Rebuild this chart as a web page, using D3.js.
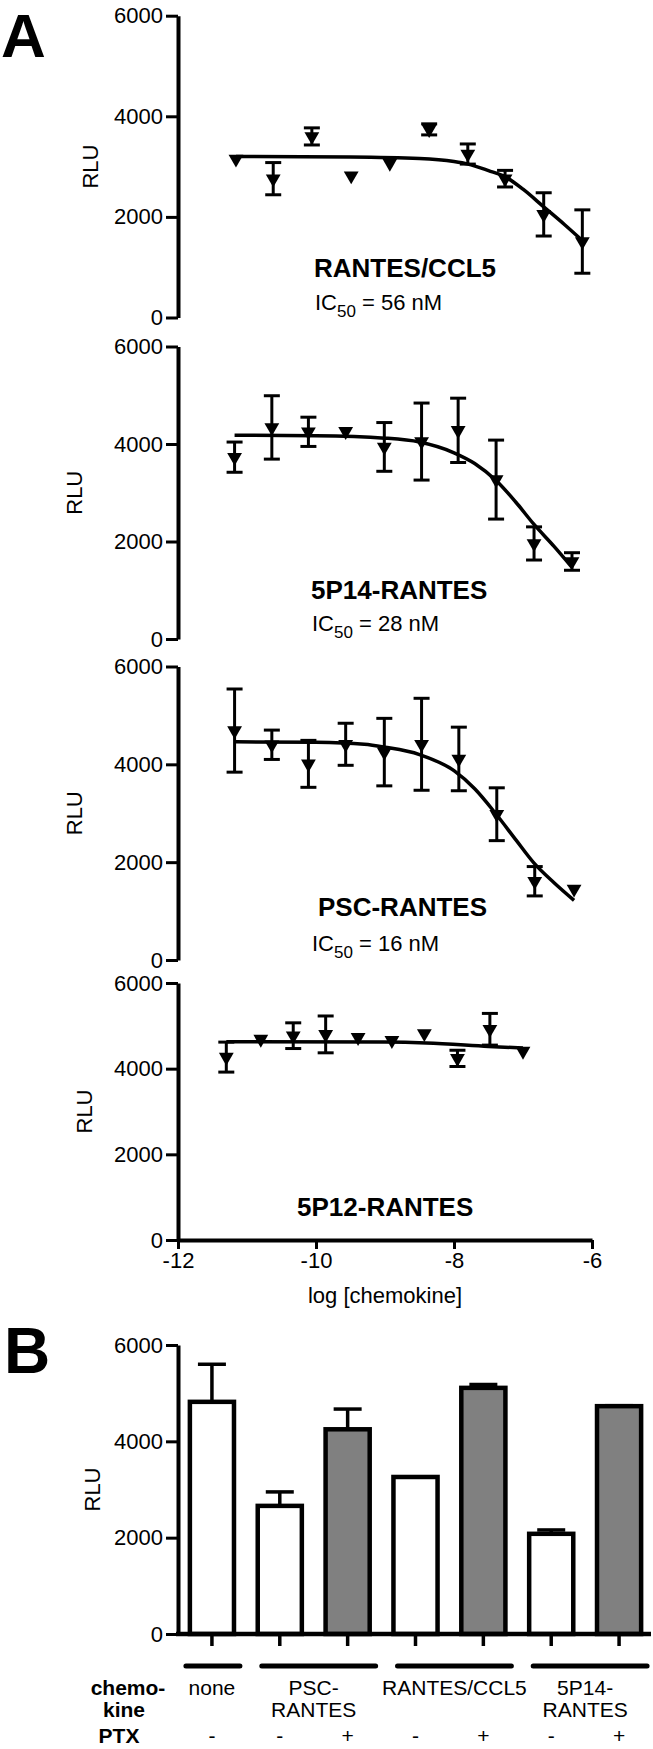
<!DOCTYPE html>
<html><head><meta charset="utf-8">
<script src="https://cdn.jsdelivr.net/npm/d3@7"></script>
<style>
body{margin:0;background:#fff}
svg{display:block}
text{font-family:"Liberation Sans",Arial,Helvetica,sans-serif;fill:#000}
</style>
</head><body>
<svg id="c" width="653" height="1749"></svg>
<script>
// ---------------- DATA ----------------
const yTickValues = [0, 2000, 4000, 6000];
const xTickValues = [-12, -10, -8, -6];

// Panel A1: RANTES/CCL5
const rantesLogC  = [-11.16, -10.62, -10.06, -9.49, -8.93, -8.36, -7.80, -7.26, -6.70, -6.14];
const rantesMean  = [3150, 2760, 3600, 2820, 3070, 3740, 3250, 2760, 2050, 1510];
const rantesSem   = [0, 320, 170, 0, 0, 110, 200, 165, 430, 630];
const rantesCurveLogC = [-11.16, -9.5, -8.5, -8.0, -7.8, -7.5, -7.26, -7.0, -6.7, -6.4, -6.14];
const rantesCurveRLU  = [3200, 3190, 3160, 3100, 3050, 2920, 2800, 2550, 2200, 1850, 1530];

// Panel A2: 5P14-RANTES
const p14LogC  = [-11.18, -10.64, -10.11, -9.57, -9.01, -8.47, -7.94, -7.39, -6.84, -6.29];
const p14Mean  = [3730, 4340, 4250, 4260, 3940, 4050, 4280, 3270, 1960, 1590];
const p14Sem   = [310, 650, 300, 0, 500, 790, 660, 810, 340, 180];
const p14CurveLogC = [-11.18, -10, -9, -8.5, -8.0, -7.7, -7.39, -7.1, -6.84, -6.55, -6.29];
const p14CurveRLU  = [4180, 4170, 4120, 4040, 3820, 3600, 3250, 2800, 2350, 1900, 1470];

// Panel A3: PSC-RANTES
const pscLogC  = [-11.18, -10.64, -10.11, -9.57, -9.01, -8.47, -7.93, -7.38, -6.83, -6.26];
const pscMean  = [4690, 4400, 4010, 4410, 4250, 4410, 4110, 2980, 1610, 1450];
const pscSem   = [850, 300, 480, 430, 690, 940, 650, 540, 300, 0];
const pscCurveLogC = [-11.18, -10, -9.3, -9.0, -8.5, -8.0, -7.7, -7.4, -7.1, -6.84, -6.55, -6.26];
const pscCurveRLU  = [4460, 4450, 4410, 4350, 4200, 3870, 3500, 3000, 2450, 1980, 1580, 1220];

// Panel A4: 5P12-RANTES
const p12LogC  = [-11.30, -10.80, -10.33, -9.86, -9.39, -8.90, -8.43, -7.95, -7.48, -7.00];
const p12Mean  = [4270, 4690, 4770, 4800, 4730, 4660, 4820, 4240, 4920, 4410];
const p12Sem   = [350, 0, 300, 430, 0, 0, 0, 190, 370, 0];
const p12CurveLogC = [-11.30, -9.0, -8.4, -7.5, -7.0];
const p12CurveRLU  = [4630, 4620, 4600, 4520, 4480];

// Panel B
const bCategories = ["none", "PSC-RANTES -", "PSC-RANTES +", "RANTES/CCL5 -", "RANTES/CCL5 +", "5P14-RANTES -", "5P14-RANTES +"];
const bMean  = [4820, 2660, 4250, 3260, 5110, 2080, 4730];
const bSem   = [780, 290, 420, 0, 70, 80, 10];
const bPTX   = ["-", "-", "+", "-", "+", "-", "+"];
const bGroupLabels = [["none"], ["PSC-", "RANTES"], ["RANTES/CCL5"], ["5P14-", "RANTES"]];
const bGroupSizes  = [1, 2, 2, 2];

// ---------------- LAYOUT ----------------
const svg = d3.select("#c");
const AX = 178;
const x = d3.scaleLinear().domain([-12, -6]).range([AX, 592]);

const panels = [
  {title: "RANTES/CCL5", ic: "56", lx: rantesLogC, m: rantesMean, e: rantesSem, cx: rantesCurveLogC, cy: rantesCurveRLU,
   y0: 317.5, y1: 15.7, tX: 314, tY: 277, icX: 315, icY: 310, rluX: 90},
  {title: "5P14-RANTES", ic: "28", lx: p14LogC, m: p14Mean, e: p14Sem, cx: p14CurveLogC, cy: p14CurveRLU,
   y0: 639, y1: 346.5, tX: 311, tY: 599, icX: 312, icY: 631, rluX: 74},
  {title: "PSC-RANTES", ic: "16", lx: pscLogC, m: pscMean, e: pscSem, cx: pscCurveLogC, cy: pscCurveRLU,
   y0: 960, y1: 666.5, tX: 318, tY: 916, icX: 312, icY: 951, rluX: 74},
  {title: "5P12-RANTES", ic: null, lx: p12LogC, m: p12Mean, e: p12Sem, cx: p12CurveLogC, cy: p12CurveRLU,
   y0: 1240, y1: 983, tX: 297, tY: 1216, rluX: 84, xAxis: true}
];

function styleAxis(g, fs) {
  g.select(".domain").attr("stroke", "#000").attr("stroke-width", 4);
  g.selectAll(".tick line").attr("stroke", "#000").attr("stroke-width", 3);
  g.selectAll(".tick text").style("font-size", fs + "px").attr("fill", "#000")
    .style("font-family", '"Liberation Sans",Arial,sans-serif');
}

// Panel letters
svg.append("text").attr("x", 1).attr("y", 57).style("font-size", "62px").style("font-weight", "bold").text("A");
svg.append("text").attr("x", 4).attr("y", 1373).style("font-size", "64px").style("font-weight", "bold").text("B");

const tri = d3.symbol().type(d3.symbolTriangle).size(95);

panels.forEach(p => {
  const y = d3.scaleLinear().domain([0, 6000]).range([p.y0, p.y1]);
  const g = svg.append("g");

  // y axis
  const ya = g.append("g").attr("transform", `translate(${AX},0)`)
    .call(d3.axisLeft(y).tickValues(yTickValues).tickSize(12).tickSizeOuter(0).tickPadding(3).tickFormat(d3.format("d")));
  styleAxis(ya, 22);

  if (p.xAxis) {
    const xa = g.append("g").attr("transform", `translate(0,${p.y0})`)
      .call(d3.axisBottom(x).tickValues(xTickValues).tickSize(9).tickSizeOuter(0).tickPadding(3).tickFormat(d => d));
    styleAxis(xa, 22);
    xa.selectAll(".tick text").text(d => "-" + Math.abs(d));
    svg.append("text").attr("x", (x(-12) + x(-6)) / 2).attr("y", 1303).attr("text-anchor", "middle")
      .style("font-size", "22px").text("log [chemokine]");
  }

  // RLU label
  svg.append("text").attr("transform", `translate(${p.rluX},${(p.y0 + p.y1) / 2}) rotate(-90)`)
    .attr("text-anchor", "middle").attr("dy", "0.35em").style("font-size", "22px").text("RLU");

  // curve
  const pts = p.cx.map((v, i) => [v, p.cy[i]]);
  g.append("path").datum(pts)
    .attr("d", d3.line().x(d => x(d[0])).y(d => y(d[1])).curve(d3.curveMonotoneX))
    .attr("fill", "none").attr("stroke", "#000").attr("stroke-width", 3.5);

  // error bars
  const data = p.lx.map((v, i) => ({lc: v, m: p.m[i], e: p.e[i]}));
  const eb = g.selectAll(".eb").data(data.filter(d => d.e > 0)).join("g");
  eb.append("line").attr("x1", d => x(d.lc)).attr("x2", d => x(d.lc))
    .attr("y1", d => y(d.m - d.e)).attr("y2", d => y(d.m + d.e)).attr("stroke", "#000").attr("stroke-width", 3);
  [-1, 1].forEach(s => {
    eb.append("line").attr("x1", d => x(d.lc) - 8).attr("x2", d => x(d.lc) + 8)
      .attr("y1", d => y(d.m + s * d.e)).attr("y2", d => y(d.m + s * d.e)).attr("stroke", "#000").attr("stroke-width", 3);
  });

  // markers (downward triangles)
  g.selectAll(".pt").data(data).join("path")
    .attr("d", tri).attr("transform", d => `translate(${x(d.lc)},${y(d.m)}) rotate(180)`)
    .attr("fill", "#000");

  // titles
  svg.append("text").attr("x", p.tX).attr("y", p.tY)
    .style("font-size", "26px").style("font-weight", "bold").text(p.title);
  if (p.ic) {
    const t = svg.append("text").attr("x", p.icX).attr("y", p.icY).style("font-size", "22px");
    t.append("tspan").text("IC");
    t.append("tspan").attr("dy", 7).style("font-size", "17px").text("50");
    t.append("tspan").attr("dy", -7).text(" = " + p.ic + " nM");
  }
});

// ---------------- PANEL B ----------------
const by = d3.scaleLinear().domain([0, 6000]).range([1634, 1345]);
const bx = d3.scaleBand().domain(d3.range(bCategories.length)).range([AX, 653]).paddingInner(0.35).paddingOuter(0.175);
const gb = svg.append("g");

const bya = gb.append("g").attr("transform", `translate(${AX},0)`)
  .call(d3.axisLeft(by).tickValues(yTickValues).tickSize(12).tickSizeOuter(0).tickPadding(3).tickFormat(d3.format("d")));
styleAxis(bya, 22);
svg.append("text").attr("transform", `translate(92,${(1634 + 1345) / 2}) rotate(-90)`)
  .attr("text-anchor", "middle").attr("dy", "0.35em").style("font-size", "22px").text("RLU");

// error bars (upper only) drawn before bars
const bdata = bMean.map((m, i) => ({i, m, e: bSem[i], ptx: bPTX[i]}));
const beb = gb.selectAll(".beb").data(bdata.filter(d => d.e > 0)).join("g");
beb.append("line").attr("x1", d => bx(d.i) + bx.bandwidth() / 2).attr("x2", d => bx(d.i) + bx.bandwidth() / 2)
  .attr("y1", d => by(d.m)).attr("y2", d => by(d.m + d.e)).attr("stroke", "#000").attr("stroke-width", 3.5);
beb.append("line").attr("x1", d => bx(d.i) + bx.bandwidth() / 2 - 14).attr("x2", d => bx(d.i) + bx.bandwidth() / 2 + 14)
  .attr("y1", d => by(d.m + d.e)).attr("y2", d => by(d.m + d.e)).attr("stroke", "#000").attr("stroke-width", 3.5);

gb.selectAll(".bar").data(bdata).join("rect")
  .attr("x", d => bx(d.i)).attr("width", bx.bandwidth())
  .attr("y", d => by(d.m)).attr("height", d => by(0) - by(d.m))
  .attr("fill", d => d.ptx === "+" ? "#808080" : "#fff")
  .attr("stroke", "#000").attr("stroke-width", 4.5);

// x axis line + ticks
gb.append("line").attr("x1", AX - 2).attr("x2", 651).attr("y1", by(0)).attr("y2", by(0))
  .attr("stroke", "#000").attr("stroke-width", 4.5);
gb.selectAll(".bt").data(bdata).join("line")
  .attr("x1", d => bx(d.i) + bx.bandwidth() / 2).attr("x2", d => bx(d.i) + bx.bandwidth() / 2)
  .attr("y1", by(0)).attr("y2", by(0) + 12).attr("stroke", "#000").attr("stroke-width", 3.5);

// group lines & labels
let start = 0;
bGroupSizes.forEach((n, gi) => {
  const c0 = bx(start) + bx.bandwidth() / 2;
  const c1 = bx(start + n - 1) + bx.bandwidth() / 2;
  const x0 = c0 - (n === 1 ? 26 : 18), x1 = c1 + 28;
  gb.append("line").attr("x1", x0).attr("x2", x1).attr("y1", 1666).attr("y2", 1666)
    .attr("stroke", "#000").attr("stroke-width", 5).attr("stroke-linecap", "round");
  const cx = (c0 + c1) / 2 + (gi === 2 ? 5 : 0);
  bGroupLabels[gi].forEach((lab, li) => {
    svg.append("text").attr("x", cx).attr("y", 1695 + li * 22).attr("text-anchor", "middle")
      .style("font-size", "21px").text(lab);
  });
  start += n;
});

svg.append("text").attr("x", 128).attr("y", 1695).attr("text-anchor", "middle")
  .style("font-size", "21px").style("font-weight", "bold").text("chemo-");
svg.append("text").attr("x", 124).attr("y", 1717).attr("text-anchor", "middle")
  .style("font-size", "21px").style("font-weight", "bold").text("kine");
svg.append("text").attr("x", 119).attr("y", 1743).attr("text-anchor", "middle")
  .style("font-size", "21px").style("font-weight", "bold").text("PTX");
gb.selectAll(".ptx").data(bdata).join("text")
  .attr("x", d => bx(d.i) + bx.bandwidth() / 2).attr("y", 1743).attr("text-anchor", "middle")
  .style("font-size", "21px").text(d => d.ptx);
</script>
</body></html>
